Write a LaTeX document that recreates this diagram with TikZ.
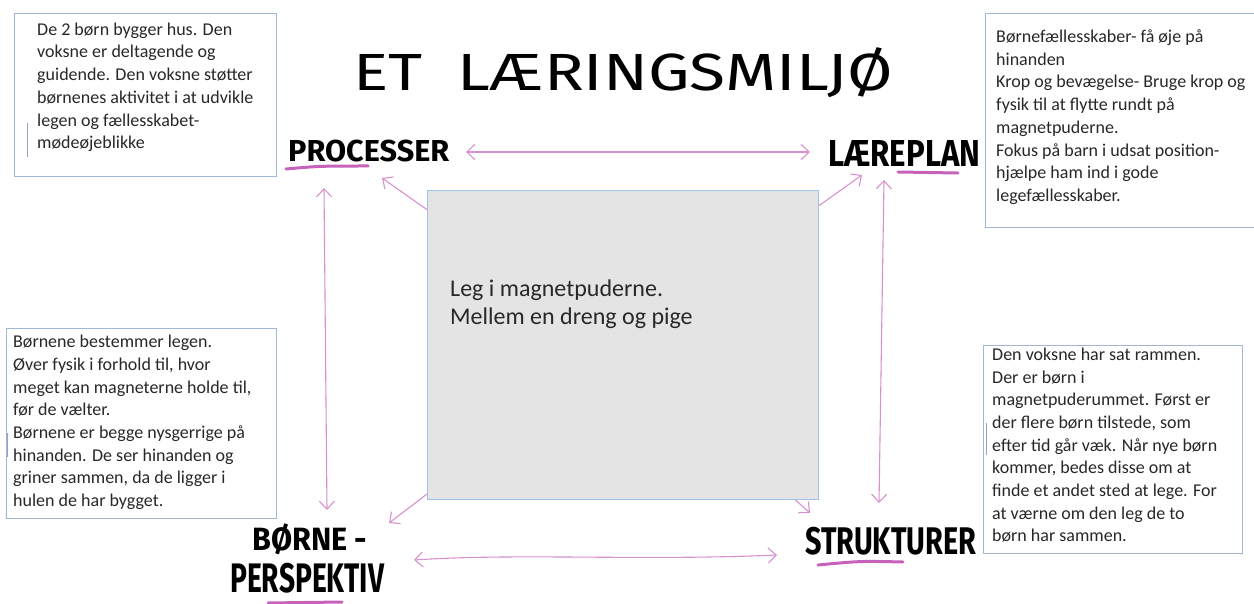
\documentclass[tikz,border=0pt]{standalone}
\usepackage{fontspec}
\setmainfont{Carlito}
\newfontfamily\handfont{Fira Sans}
\usetikzlibrary{arrows.meta}
\definecolor{boxblue}{RGB}{160,184,214}
\definecolor{ctrblue}{RGB}{160,196,232}
\definecolor{ctrfill}{RGB}{228,228,228}
\definecolor{pinkarrow}{RGB}{214,145,206}
\definecolor{pinkline}{RGB}{198,98,186}
\definecolor{txt}{RGB}{40,40,40}
\definecolor{markblue}{RGB}{140,165,200}
\begin{document}
\begin{tikzpicture}[x=1pt,y=-1pt,
  notebox/.style={draw=boxblue, line width=1pt, fill=white, anchor=north west, inner sep=0pt},
  notetext/.style={anchor=north west, inner sep=0pt, align=left, text=txt, font=\fontsize{18}{22.7}\selectfont},
  handlabel/.style={inner sep=0pt, anchor=north west, text=black},
  link/.style={draw=pinkarrow, line width=1.1pt, {Straight Barb[length=8pt,width=15pt]}-{Straight Barb[length=8pt,width=15pt]}},
  onelink/.style={draw=pinkarrow, line width=1.1pt, -{Straight Barb[length=8pt,width=15pt]}},
  underl/.style={draw=pinkline, line width=3pt, line cap=round},
  cursor/.style={draw=markblue, line width=1pt}
]
\useasboundingbox (0,0) rectangle (1254,604);

% title and labels
\node[handlabel] (title) at (353,47) {\resizebox*{540pt}{50pt}{\handfont\fontsize{40}{40}\selectfont ET\ \ LÆRINGSMILJØ}};
\node[handlabel] (proc) at (288,140) {\resizebox*{161pt}{22pt}{\handfont\bfseries PROCESSER}};
\node[handlabel] (laere) at (828,140) {\resizebox*{152pt}{26pt}{\handfont\bfseries LÆREPLAN}};
\node[handlabel] (born) at (252,524) {\resizebox*{115pt}{31pt}{\handfont\bfseries BØRNE -}};
\node[handlabel] (persp) at (230,563) {\resizebox*{154pt}{30pt}{\handfont\bfseries PERSPEKTIV}};
\node[handlabel] (struk) at (805,527) {\resizebox*{171pt}{28pt}{\handfont\bfseries STRUKTURER}};

% underlines
\draw[underl] (286,169) .. controls (320,166) .. (368,166);
\draw[underl] (898,172) -- (958,173);
\draw[underl] (818,565) .. controls (860,561) .. (903,562);
\draw[underl] (268,603) -- (342,602);

% center box
\node[draw=ctrblue, line width=1pt, fill=ctrfill, anchor=north west, inner sep=0pt,
      minimum width=391pt, minimum height=309pt] (ctr) at (427,190) {};
\node[anchor=north west, inner sep=0pt, align=left, text=txt,
      font=\fontsize{24}{28}\selectfont] (ctrtext) at (450,280) {Leg i magnetpuderne.\\Mellem en dreng og pige};

% connector end points
\coordinate (pL) at (466,152);
\coordinate (pR) at (810,152);
\coordinate (bL) at (414,560);
\coordinate (bR) at (777,555);
\coordinate (vLt) at (324,188);
\coordinate (vLb) at (327,510);
\coordinate (vRt) at (884,180);
\coordinate (vRb) at (879,503);
\coordinate (dTL) at (382,178);
\coordinate (dTR) at (862,175);
\coordinate (dBL) at (389,523);
\coordinate (dBR) at (810,513);

\draw[link] (pL) -- (pR);
\draw[link] (bL) .. controls (520,553) and (640,561) .. (bR);
\draw[link] (vLt) -- (vLb);
\draw[link] (vRt) -- (vRb);
\draw[onelink] (ctr) -- (dTL);
\draw[onelink] (ctr) -- (dTR);
\draw[onelink] (ctr) -- (dBL);
\draw[onelink] (ctr) -- (dBR);

% note boxes
\node[notebox, minimum width=262pt, minimum height=163pt] (tlbox) at (14,13) {};
\node[notetext] (tltext) at (37,22.6) {De 2 børn bygger hus. Den\\voksne er deltagende og\\guidende. Den voksne støtter\\børnenes aktivitet i at udvikle\\legen og fællesskabet-\\mødeøjeblikke};

\node[notebox, minimum width=290pt, minimum height=214pt] (trbox) at (985,13) {};
\node[notetext] (trtext) at (996,29.6) {Børnefællesskaber- få øje på\\hinanden\\Krop og bevægelse- Bruge krop og\\fysik til at flytte rundt på\\magnetpuderne.\\Fokus på barn i udsat position-\\hjælpe ham ind i gode\\legefællesskaber.};

\node[notebox, minimum width=270pt, minimum height=190pt] (blbox) at (6,328) {};
\node[notetext] (bltext) at (13,335) {Børnene bestemmer legen.\\Øver fysik i forhold til, hvor\\meget kan magneterne holde til,\\før de vælter.\\Børnene er begge nysgerrige på\\hinanden. De ser hinanden og\\griner sammen, da de ligger i\\hulen de har bygget.};

\node[notebox, minimum width=259pt, minimum height=208pt] (brbox) at (983,345) {};
\node[notetext] (brtext) at (992,347.6) {Den voksne har sat rammen.\\Der er børn i\\magnetpuderummet. Først er\\der flere børn tilstede, som\\efter tid går væk. Når nye børn\\kommer, bedes disse om at\\finde et andet sted at lege. For\\at værne om den leg de to\\børn har sammen.};

% text cursor marks
\draw[cursor] (27,123) -- (27,157);
\draw[cursor] (7,433) -- (7,457);
\draw[cursor] (986,423) -- (986,455);
\end{tikzpicture}
\end{document}
